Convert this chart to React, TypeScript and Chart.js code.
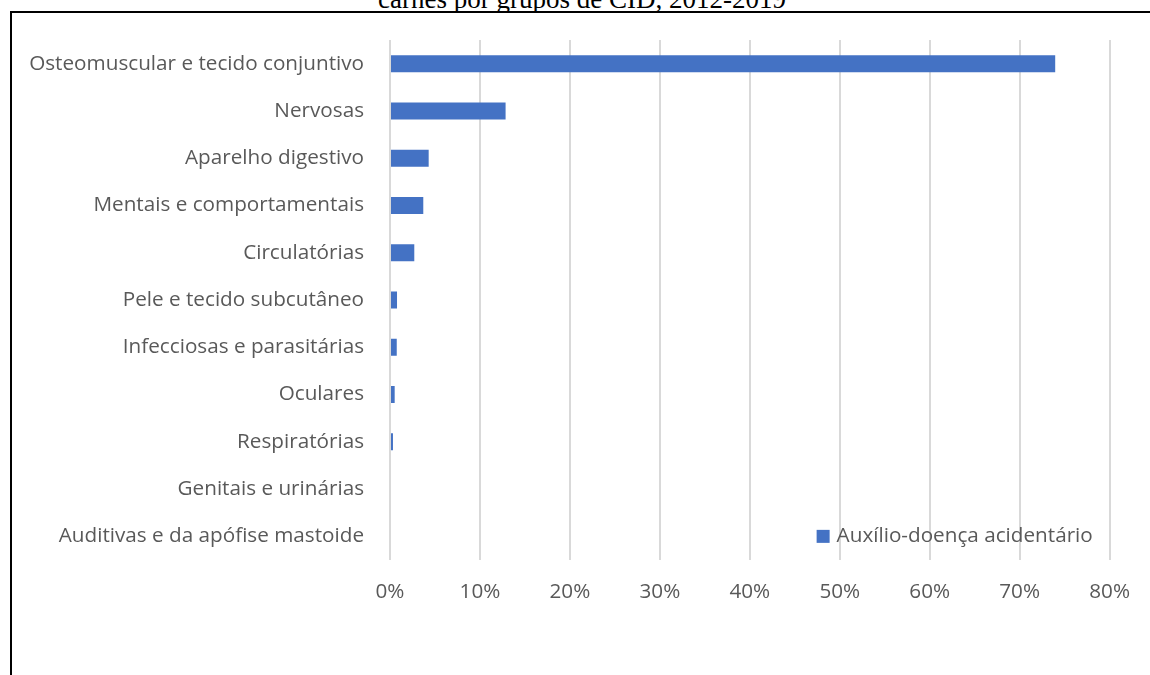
import React, { useEffect, useRef } from "react";
import { Chart, registerables } from "chart.js";

Chart.register(...registerables);

const titleText = "carnes por grupos de CID, 2012-2019";
const seriesLabel = "Auxílio-doença acidentário";
const categories = [
  "Osteomuscular e tecido conjuntivo",
  "Nervosas",
  "Aparelho digestivo",
  "Mentais e comportamentais",
  "Circulatórias",
  "Pele e tecido subcutâneo",
  "Infecciosas e parasitárias",
  "Oculares",
  "Respiratórias",
  "Genitais e urinárias",
  "Auditivas e da apófise mastoide",
];
const values = [73.95, 12.85, 4.3, 3.7, 2.7, 0.78, 0.75, 0.52, 0.33, 0, 0];
const xTickValues = [0, 10, 20, 30, 40, 50, 60, 70, 80];

const BAR_COLOR = "#4472C4";
const TEXT_COLOR = "#595959";
const GRID_COLOR = "#d9d9d9";
const FONT_FAMILY = "'Open Sans'";
const FONT_SIZE = 20.7;

const legendPlugin = {
  id: "customLegend",
  afterDraw(chart: any) {
    const { ctx, chartArea, scales } = chart;
    const y = scales.y.getPixelForValue(categories.length - 1);
    const x = chartArea.right - 293;
    ctx.save();
    ctx.fillStyle = BAR_COLOR;
    ctx.fillRect(x, y - 6.5, 13, 13);
    ctx.fillStyle = TEXT_COLOR;
    ctx.font = `${FONT_SIZE}px ${FONT_FAMILY}`;
    ctx.textBaseline = "middle";
    ctx.textAlign = "left";
    ctx.fillText(seriesLabel, x + 20, y);
    ctx.restore();
  },
};

export default function App() {
  const canvasRef = useRef<HTMLCanvasElement | null>(null);

  useEffect(() => {
    const canvas = canvasRef.current;
    if (!canvas) return;
    const chart = new Chart(canvas, {
      type: "bar",
      data: {
        labels: categories,
        datasets: [
          {
            label: seriesLabel,
            data: values,
            backgroundColor: BAR_COLOR,
            barPercentage: 0.36,
            categoryPercentage: 1,
          },
        ],
      },
      options: {
        indexAxis: "y",
        responsive: false,
        animation: false,
        layout: { padding: { top: 40, right: 39, left: 0, bottom: 0 } },
        plugins: {
          legend: { display: false },
          tooltip: { enabled: false },
          title: { display: false },
        },
        scales: {
          x: {
            min: 0,
            max: 80,
            afterBuildTicks: (scale: any) => {
              scale.ticks = xTickValues.map((v) => ({ value: v }));
            },
            ticks: {
              callback: (v: any) => `${v}%`,
              color: TEXT_COLOR,
              font: { family: FONT_FAMILY, size: FONT_SIZE },
              padding: 20,
              maxRotation: 0,
            },
            grid: { color: GRID_COLOR, lineWidth: 2, drawTicks: false },
            border: { display: false },
            afterFit: (scale: any) => {
              scale.height = 115;
            },
          },
          y: {
            grid: { display: false, drawTicks: false },
            border: { display: false },
            ticks: {
              color: TEXT_COLOR,
              font: { family: FONT_FAMILY, size: FONT_SIZE },
              padding: 26,
            },
            afterFit: (scale: any) => {
              scale.width = 390;
            },
          },
        },
      },
      plugins: [legendPlugin],
    });
    return () => chart.destroy();
  }, []);

  return (
    <div
      style={{
        position: "fixed",
        left: 0,
        top: 0,
        width: 1150,
        height: 675,
        overflow: "hidden",
        background: "#fff",
      }}
    >
      <div
        style={{
          position: "absolute",
          left: 582,
          top: -14,
          transform: "translateX(-50%)",
          whiteSpace: "nowrap",
          fontFamily: "'Liberation Serif', 'Times New Roman', serif",
          fontSize: 27,
          lineHeight: "27px",
          color: "#000",
          zIndex: 0,
        }}
      >
        {titleText}
      </div>
      <div
        style={{
          position: "absolute",
          left: 10,
          top: 11,
          width: 1300,
          height: 800,
          border: "2px solid #000",
          background: "#fff",
          zIndex: 1,
        }}
      />
      <canvas
        ref={canvasRef}
        width={1150}
        height={675}
        style={{ position: "absolute", left: 0, top: 0, zIndex: 2 }}
      />
    </div>
  );
}
